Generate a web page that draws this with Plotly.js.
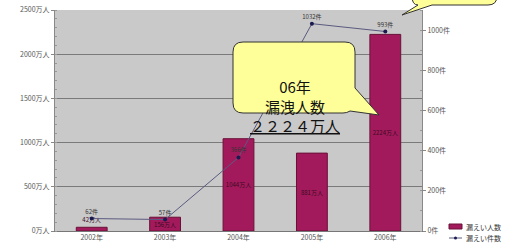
<!DOCTYPE html>
<html><head><meta charset="utf-8">
<script src="https://cdn.plot.ly/plotly-3.0.1.min.js"></script>
<style>html,body{margin:0;padding:0;background:#fff}#c{width:511px;height:243px}</style>
</head><body><div id="c"></div>
<script>
const years = ['2002年','2003年','2004年','2005年','2006年'];
const people = [42, 156, 1044, 881, 2224];
const peopleLabels = ['42万人','156万人','1044万人','881万人','2224万人'];
const incidents = [62, 57, 366, 1032, 993];
const incidentLabels = ['62件','57件','366件','1032件','993件'];
const seriesNames = ['漏えい人数','漏えい件数'];
const calloutLines = ['06年','漏洩人数','<u>２２２４万人</u>'];

const W=511,H=243,L=55,R=89,T=10,B=12;
const pw=W-L-R, ph=H-T-B;
const px=x=>(x-L)/pw, py=y=>(H-B-y)/ph;
function path(pts){return pts.map((p,i)=>{
  if(p[0]==='Q') return 'Q'+px(p[1])+','+py(p[2])+' '+px(p[3])+','+py(p[4]);
  return (i===0?'M':'L')+px(p[0])+','+py(p[1]);}).join(' ')+' Z';}

const ff='"Noto Sans CJK JP", "Noto Sans", sans-serif';
const font={family:ff,size:7,color:'#555'};
const barColor='#a31a5c', lineColor='#5a5a80', markerColor='#1a1a50';

const data=[
 {type:'bar',x:years,y:people,name:seriesNames[0],width:0.42,
  marker:{color:barColor,line:{color:'#6a1038',width:1}},
  text:peopleLabels,textposition:['outside','inside','inside','inside','inside'],insidetextanchor:'middle',textangle:0,constraintext:'none',
  textfont:{size:6,color:'#3a0a1e',family:ff},cliponaxis:false,hoverinfo:'none'},
 {type:'scatter',x:years,y:incidents,yaxis:'y2',name:seriesNames[1],mode:'lines+markers+text',
  line:{color:lineColor,width:1},marker:{color:markerColor,size:4},
  text:incidentLabels,textposition:'top center',textfont:{size:6,color:'#333',family:ff},
  cliponaxis:false,hoverinfo:'none'}
];

const layout={
 width:W,height:H,margin:{l:L,r:R,t:T,b:B,pad:0,autoexpand:false},
 paper_bgcolor:'#fff',plot_bgcolor:'#c9c9c9',font:font,showlegend:false,
 xaxis:{type:'category',showline:true,linecolor:'#777',ticks:'',tickfont:font,automargin:false},
 yaxis:{range:[0,2500],dtick:500,ticksuffix:'万人',showgrid:true,gridcolor:'#7a7a7a',gridwidth:1.2,automargin:false,
  showline:true,linecolor:'#888',ticks:'outside',ticklen:3,tickcolor:'#888',tickfont:font,zeroline:false,
  minor:{dtick:100,ticks:'inside',ticklen:2,tickcolor:'#999',showgrid:false}},
 yaxis2:{range:[0,1100],dtick:200,ticksuffix:'件',overlaying:'y',side:'right',showgrid:false,automargin:false,
  showline:true,linecolor:'#888',ticks:'outside',ticklen:3,tickcolor:'#888',tickfont:font,zeroline:false,
  minor:{dtick:100,ticks:'inside',ticklen:2,tickcolor:'#999'}},
 shapes:[
  {type:'path',xref:'paper',yref:'paper',layer:'above',fillcolor:'#ffff99',line:{color:'#333',width:1},
   path:path([[243,42],[345,42],['Q',355,42,355,52],[355,88],[379,115],[350,111],['Q',347,113,343,113],[243,113],['Q',233,113,233,103],[233,52],['Q',233,42,243,42]])},
  {type:'path',xref:'paper',yref:'paper',layer:'above',fillcolor:'#ffff99',line:{color:'#333',width:1},
   path:path([[420,-30],[488,-30],['Q',497,-30,497,-20],[497,-4],['Q',497,5,488,5],[432,5],[402,15],[418,5],['Q',412,5,412,-4],[412,-20],['Q',412,-30,420,-30]])},
  {type:'rect',xref:'paper',yref:'paper',x0:px(449),x1:px(462),y0:py(229),y1:py(224),fillcolor:barColor,line:{color:'#6a1038',width:1}},
  {type:'line',xref:'paper',yref:'paper',x0:px(449),x1:px(462),y0:py(238),y1:py(238),line:{color:lineColor,width:1}},
  {type:'circle',xref:'paper',yref:'paper',x0:px(454),x1:px(457),y0:py(239.5),y1:py(236.5),fillcolor:markerColor,line:{color:markerColor,width:0}}
 ],
 annotations:[
  {xref:'paper',yref:'paper',x:px(295),y:py(74),text:calloutLines.join('<br>'),showarrow:false,
   font:{family:ff,size:15,color:'#111'},align:'center'},
  {xref:'paper',yref:'paper',x:px(464),y:py(226.5),xanchor:'left',yanchor:'middle',text:seriesNames[0],showarrow:false,
   font:{family:ff,size:7,color:'#333'}},
  {xref:'paper',yref:'paper',x:px(464),y:py(238),xanchor:'left',yanchor:'middle',text:seriesNames[1],showarrow:false,
   font:{family:ff,size:7,color:'#333'}}
 ]
};
Plotly.newPlot('c',data,layout,{displayModeBar:false,staticPlot:true});
</script></body></html>
